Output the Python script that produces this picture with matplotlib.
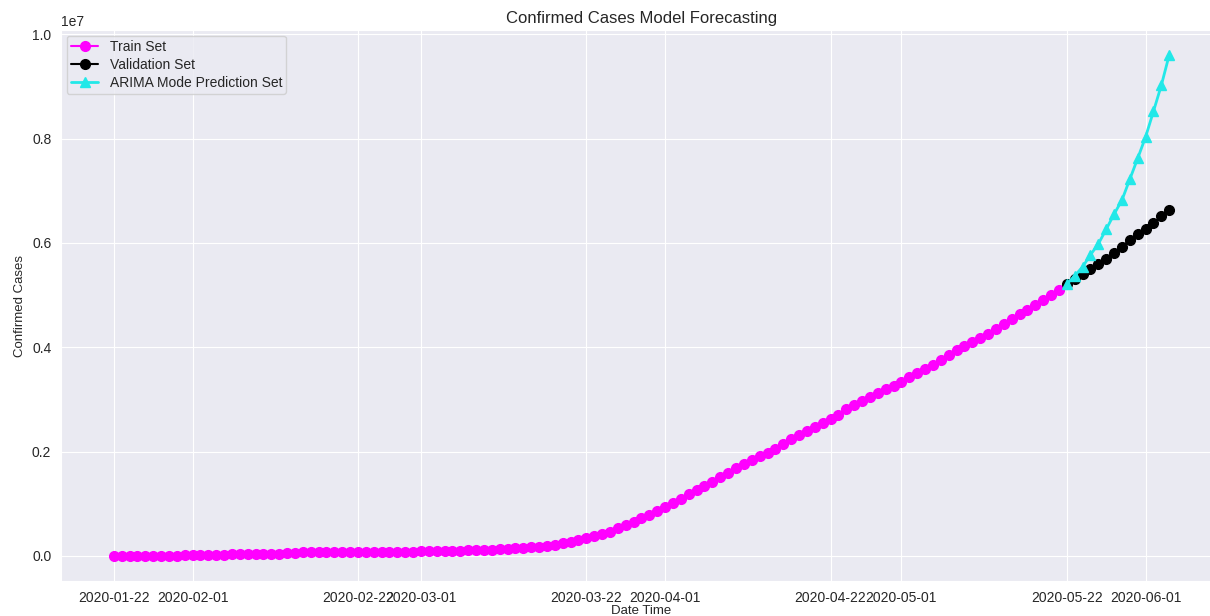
import numpy as np
import pandas as pd
import matplotlib
matplotlib.use("Agg")
import matplotlib.pyplot as plt
import matplotlib.dates as mdates
import seaborn as sns

# Worldwide confirmed cases, daily from 2020-01-22
train_dates = pd.date_range("2020-01-22", "2020-05-21", freq="D")
train_cases = [
    555, 653, 941, 1438, 2118, 2927, 5578, 6166, 8234, 9927,
    12038, 16787, 19881, 23892, 27635, 30817, 34391, 37120, 40150, 42762,
    44802, 45221, 60368, 66885, 69030, 71224, 73258, 75136, 75639, 76197,
    76819, 78572, 78958, 79561, 80406, 81388, 82746, 84112, 86011,
    88369, 90306, 92840, 95120, 97882, 101784, 105821, 109795, 113561, 118592,
    125865, 128343, 145193, 156097, 167449, 181531, 197146, 214910, 242708, 272166,
    304524, 335955, 378287, 417966, 467594, 529591, 593291, 660706, 720117, 782365,
    857487,
    932605, 1013157, 1095917, 1197405, 1272115, 1345101, 1426096, 1511104, 1595350, 1691719,
    1771514, 1846680, 1917320, 1976192, 2056054, 2152437, 2240190, 2317759, 2401378, 2472259,
    2549294, 2624068, 2708885, 2811193, 2896746, 2971475, 3041764, 3116398, 3193886, 3256846,
    3343777, 3427584, 3506729, 3583055, 3662691, 3755341, 3845718, 3938064, 4024009, 4101699,
    4177502, 4261747, 4347018, 4442163, 4542347, 4634068, 4713620, 4801943, 4897492, 4996472,
    5102424,
]

valid_dates = pd.date_range("2020-05-22", "2020-06-04", freq="D")
valid_cases = [5210817, 5310362, 5407613, 5495061, 5589626, 5691790, 5808946,
               5924275, 6059017, 6166946, 6265852, 6386832, 6508635, 6632985]

arima_pred = [5.21e6, 5.37e6, 5.54e6, 5.77e6, 5.98e6, 6.26e6, 6.55e6,
              6.82e6, 7.22e6, 7.62e6, 8.03e6, 8.52e6, 9.02e6, 9.60e6]

sns.set_style("darkgrid")
plt.rcParams["font.family"] = ["Liberation Sans", "DejaVu Sans"]

fig = plt.figure(figsize=(12.1, 6.16), dpi=100)
# axes runs a little past the right edge, like the cropped original
ax = fig.add_axes([0.0504, 0.0568, 0.9595, 0.8945])

ax.plot(train_dates, train_cases, color="magenta", marker="o", markersize=7, label="Train Set")
ax.plot(valid_dates, valid_cases, color="black", marker="o", markersize=7, label="Validation Set")
ax.plot(valid_dates, arima_pred, color="#22e8e8", marker="^", markersize=6.5, linewidth=2,
        label="ARIMA Mode Prediction Set")

ax.xaxis.set_major_locator(mdates.DayLocator(bymonthday=[1, 22]))
ax.xaxis.set_major_formatter(mdates.DateFormatter("%Y-%m-%d"))
ax.tick_params(labelsize=10)
ax.tick_params(axis="x", pad=4)
ax.yaxis.get_offset_text().set_fontsize(10)

ax.set_title("Confirmed Cases Model Forecasting", fontsize=12, pad=5)
ax.set_xlabel("Date Time", fontsize=9.5, labelpad=0)
ax.set_ylabel("Confirmed Cases", fontsize=9.5)
ax.legend(loc="upper left", fontsize=10, labelspacing=0.3, borderpad=0.3,
          borderaxespad=0.4)

fig.savefig("out.png", dpi=100)
